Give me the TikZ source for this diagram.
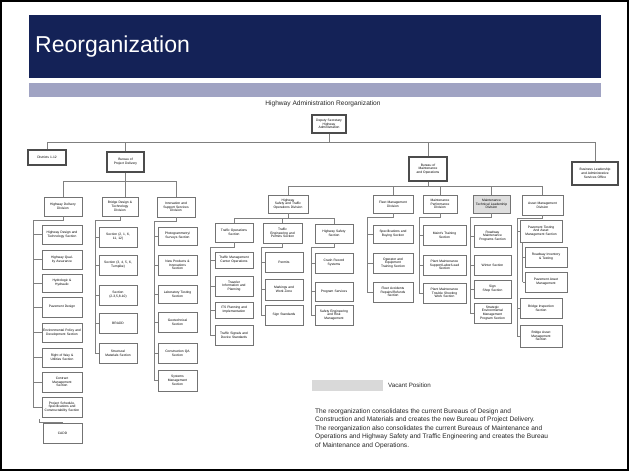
\documentclass[tikz,border=0pt]{standalone}
\usepackage{fontspec}
\setmainfont{Liberation Sans}
\usetikzlibrary{calc,shadows}
\definecolor{navy}{HTML}{142257}
\definecolor{lav}{HTML}{A0A3C3}
\tikzset{
  bx/.style={draw=black!55, line width=0.55pt, fill=white, inner sep=0pt, align=center,
    font=\fontsize{3.3}{3.8}\selectfont,
    general shadow={fill=black!30, shadow xshift=0.7pt, shadow yshift=-0.7pt}},
  bbx/.style={bx, draw=black!70, line width=1.1pt},
  vac/.style={fill=black!13},
  ln/.style={draw=black!50, line width=0.6pt},
}
\newcommand{\bx}[7][]{%
  \pgfmathsetmacro{\bxw}{#5-#3}\pgfmathsetmacro{\bxh}{#6-#4}\pgfmathsetmacro{\bxt}{#5-#3-1.2}%
  \node[bx,#1,minimum width=\bxw pt,minimum height=\bxh pt,text width=\bxt pt] (#2) at ({(#3+#5)/2},{(#4+#6)/2}) {#7};}
\newcommand{\brk}[5]{%
  \coordinate (jj) at (#2,#3);
  \draw[ln] (#1.south) |- (jj) -- (jj |- #4.west);
  \foreach \c in {#5} {\draw[ln] (jj |- \c.west) -- (\c.west);}}
\begin{document}
\begin{tikzpicture}[x=1pt,y=-1pt]
\useasboundingbox (0,0) rectangle (629,471);
\fill[white] (0,0) rectangle (629,471);
\draw[black, line width=2pt] (1,1) rectangle (628,470);
% title
\fill[navy] (29,15) rectangle (601,78);
\node[anchor=west, text=white, font=\fontsize{23}{28}\selectfont, inner sep=0pt] (title) at (35,47) {Reorganization};
\fill[lav] (29,83) rectangle (601,97);
\node[font=\fontsize{6.6}{8}\selectfont, text=black!85, inner sep=0pt] (ctitle) at (323,103.5) {Highway Administration Reorganization};
% top level
\bx[bbx]{top}{312}{115}{346}{133}{Deputy Secretary\\Highway\\Administration}
\bx[bbx]{dist}{28}{150}{66}{165}{Districts 1-12}
\bx[bbx]{bpd}{107}{152}{144}{172}{Bureau of\\Project Delivery}
\bx[bbx]{bmo}{409}{157}{447}{181}{Bureau of\\Maintenance\\and Operations}
\bx[bbx]{bla}{572}{162}{618}{185}{Business Leadership\\and Administrative\\Services Office}
\coordinate (b1) at (0,142);
\draw[ln] (dist.north) -- (dist.north |- b1) -| (bla.north);
\draw[ln] (top.south) -- (top.south |- b1);
\draw[ln] (bpd.north) -- (bpd.north |- b1);
\draw[ln] (bmo.north) -- (bmo.north |- b1);
% Project Delivery divisions
\bx{hdd}{44}{197}{82}{216}{Highway Delivery\\Division}
\bx{bdt}{102}{197}{138}{216}{Bridge Design \&\\Technology\\Division}
\bx{iss}{157}{197}{195}{217}{Innovation and\\Support Services\\Division}
\coordinate (b2) at (0,181);
\draw[ln] (hdd.north) -- (hdd.north |- b2) -| (iss.north);
\draw[ln] (bpd.south) -- (bpd.south |- bdt.north);
% Highway Delivery sections
\bx{hds}{42}{225}{82}{244}{Highway Design and Technology Section}
\bx{hqa}{42}{250}{82}{269}{Highway Quality Assurance}
\bx{hyd}{42}{274}{82}{292}{Hydrologic \&\\Hydraulic}
\bx{pav}{42}{297}{82}{317}{Pavement Design}
\bx{env}{42}{323}{82}{342}{Environmental Policy and Development Section}
\bx{row}{42}{348}{82}{367}{Right of Way \&\\Utilities Section}
\bx{con}{42}{372}{82}{392}{Contract\\Management\\Section}
\bx{pss}{42}{397}{82}{417}{Project Schedule, Specifications and Constructability Section}
\bx{cadd}{43}{423}{82}{443}{CADD}
\brk{hdd}{33}{220}{pss}{hds,hqa,hyd,pav,env,row,con,pss}
\draw[ln] (pss.south west) ++(-2,2) |- (cadd.north);
% Bridge sections
\bx{bsa}{99}{227}{137}{247}{Section (2, 1, 6,\\11, 12)}
\bx{bsb}{99}{255}{137}{275}{Section (3, 4, 5, 6,\\Turnpike)}
\bx{bsc}{99}{285}{137}{305}{Section\\(2-3,5,8-10)}
\bx{brd}{99}{313}{137}{333}{BRADD}
\bx{stm}{99}{343}{137}{363}{Structural\\Materials Section}
\brk{bdt}{95}{220}{stm}{bsa,bsb,bsc,brd,stm}
% Innovation sections
\bx{pho}{158}{227}{197}{245}{Photogrammetry/\\Surveys Section}
\bx{npi}{158}{255}{197}{275}{New Products \&\\Innovations\\Section}
\bx{lab}{158}{285}{197}{303}{Laboratory Testing\\Section}
\bx{geo}{158}{312}{197}{332}{Geotechnical\\Section}
\bx{cqa}{158}{343}{197}{363}{Construction QA\\Section}
\bx{sys}{158}{370}{197}{391}{Systems\\Management\\Section}
\brk{iss}{154}{221}{sys}{pho,npi,lab,geo,cqa,sys}
% Maintenance and Operations divisions
\bx{hsto}{268}{195}{308}{213}{Highway\\Safety and Traffic\\Operations Division}
\bx{fleet}{373}{195}{413}{213}{Fleet Management\\Division}
\bx{perf}{423}{195}{457}{213}{Maintenance\\Performance\\Division}
\bx[vac]{tech}{473}{195}{510}{213}{Maintenance\\Technical Leadership\\Division}
\bx{asset}{522}{195}{563}{215}{Asset Management\\Division}
\coordinate (b3) at (0,186);
\draw[ln] (hsto.north) -- (hsto.north |- b3) -| (asset.north);
\draw[ln] (bmo.south) -- (bmo.south |- b3);
\foreach \d in {fleet,perf,tech} {\draw[ln] (\d.north) -- (\d.north |- b3);}
% HSTO sections
\bx{tos}{215}{223}{253}{242}{Traffic Operations\\Section}
\bx{teps}{263}{223}{302}{243}{Traffic\\Engineering and\\Permits Section}
\bx{hss}{315}{224}{353}{243}{Highway Safety\\Section}
\coordinate (b4) at (0,218);
\draw[ln] (tos.north) -- (tos.north |- b4) -| (hss.north);
\draw[ln] (hsto.south) -- (hsto.south |- b4);
\draw[ln] (teps.north) -- (teps.north |- b4);
\bx{tmc}{215}{252}{253}{268}{Traffic Management\\Center Operations}
\bx{tip}{215}{276}{253}{296}{Traveler\\Information and\\Planning}
\bx{its}{215}{302}{253}{318}{ITS Planning and\\Implementation}
\bx{tsd}{215}{325}{253}{345}{Traffic Signals and\\Device Standards}
\brk{tos}{210}{247}{tsd}{tmc,tip,its,tsd}
\bx{per}{265}{252}{303}{272}{Permits}
\bx{mwz}{265}{279}{303}{300}{Markings and\\Work Zone}
\bx{sgn}{265}{305}{303}{325}{Sign Standards}
\brk{teps}{261}{247}{sgn}{per,mwz,sgn}
\bx{crs}{315}{253}{353}{273}{Crash Record\\Systems}
\bx{prs}{315}{282}{353}{301}{Program Services}
\bx{ser}{315}{305}{353}{325}{Safety Engineering\\and Risk\\Management}
\brk{hss}{311}{247}{ser}{crs,prs,ser}
% Fleet
\bx{sbs}{373}{225}{413}{243}{Specifications and\\Buying Section}
\bx{oet}{373}{253}{413}{273}{Operator and\\Equipment\\Training Section}
\bx{far}{373}{282}{413}{302}{Fleet Accidents\\Repairs/Refunds\\Section}
\brk{fleet}{367}{217}{far}{sbs,oet,far}
% Maintenance Performance
\bx{mts}{423}{225}{466}{245}{Maint's Training\\Section}
\bx{pms}{423}{255}{466}{275}{Plant Maintenance\\Support/Labor/Lead\\Section}
\bx{ptw}{423}{283}{466}{303}{Plant Maintenance\\Trouble Shooting\\Work Section}
\brk{perf}{419}{217}{ptw}{mts,pms,ptw}
% Maintenance Technical Leadership
\bx{rmp}{474}{225}{511}{247}{Roadway\\Maintenance\\Programs Section}
\bx{win}{474}{255}{511}{275}{Winter Section}
\bx{ssh}{474}{280}{511}{298}{Sign\\Shop Section}
\bx{sem}{474}{303}{511}{323}{Strategic\\Environmental\\Management\\Program Section}
\brk{tech}{470}{217}{sem}{rmp,win,ssh,sem}
% Asset Management
\bx{ptam}{520}{220}{562}{242}{Pavement Testing\\And Asset\\Management Section}
\bx{rit}{525}{247}{567}{267}{Roadway Inventory\\\& Testing}
\bx{pam}{525}{272}{567}{292}{Pavement Asset\\Management}
\bx{bis}{520}{298}{562}{318}{Bridge Inspection\\Section}
\bx{bam}{520}{325}{562}{347}{Bridge Asset\\Management\\Section}
\brk{asset}{517}{218}{bam}{ptam,bis,bam}
\coordinate (ja) at ($(ptam.south west)+(3,0)$);
\draw[ln] (ja) -- (ja |- pam.west);
\foreach \c in {rit,pam} {\draw[ln] (ja |- \c.west) -- (\c.west);}
% legend
\node[fill=black!15, minimum width=71pt, minimum height=11pt, inner sep=0pt] (leg) at (347.5,385.5) {};
\node[anchor=west, font=\fontsize{6.2}{7}\selectfont, inner sep=0pt, text=black!85] (legt) at (388,385.5) {Vacant Position};
\node[anchor=north west, align=left, inner sep=0pt, text=black!85, font=\fontsize{6.6}{8.5}\selectfont] (para) at (315,408.5)
{The reorganization consolidates the current Bureaus of Design and\\
Construction and Materials and creates the new Bureau of Project Delivery.\\
The reorganization also consolidates the current Bureaus of Maintenance and\\
Operations and Highway Safety and Traffic Engineering and creates the Bureau\\
of Maintenance and Operations.};
\end{tikzpicture}
\end{document}
